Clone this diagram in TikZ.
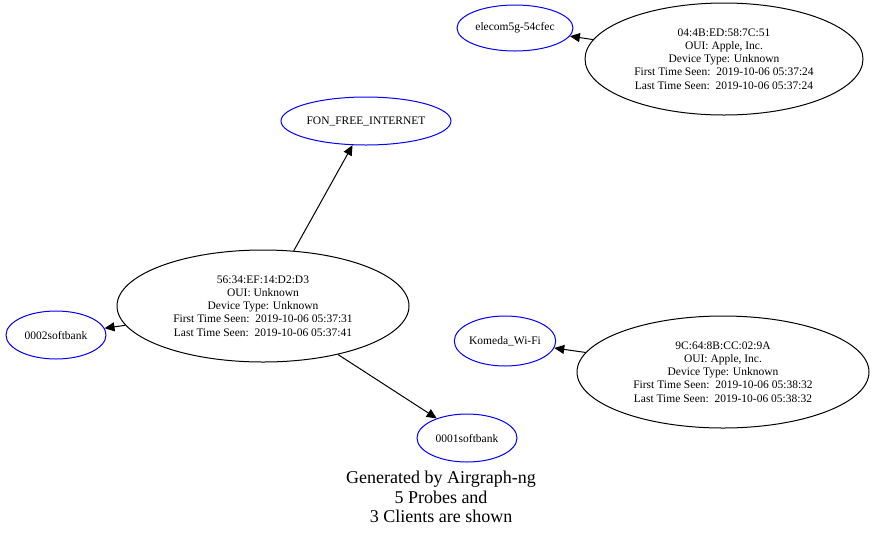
\documentclass[tikz,border=0pt]{standalone}
\usepackage{fontspec}
\setmainfont{Liberation Serif}
\usetikzlibrary{shapes.geometric,arrows.meta}
\begin{document}
\begin{tikzpicture}[x=1pt,y=-1pt,
  el/.style={ellipse,draw,line width=1pt,inner sep=0pt,font=\fontsize{11.5}{13.2}\selectfont,align=center},
  ssid/.style={el,draw=blue},
  arr/.style={-{Triangle[length=10pt,width=9pt]},line width=1pt}]
\useasboundingbox (0,0) rectangle (883,539);
\node[ssid,minimum width=116,minimum height=46] (e) at (515,28) {elecom5g-54cfec};
\node[el,minimum width=278,minimum height=112] (a1) at (724,59) {04:4B:ED:58:7C:51\\OUI: Apple, Inc.\\Device Type: Unknown\\First Time Seen:\ \ 2019-10-06 05:37:24\\Last Time Seen:\ \ 2019-10-06 05:37:24};
\node[ssid,minimum width=170,minimum height=48] (f) at (366,121) {FON\_FREE\_INTERNET};
\node[el,minimum width=292,minimum height=112] (c) at (263,306) {56:34:EF:14:D2:D3\\OUI: Unknown\\Device Type: Unknown\\First Time Seen:\ \ 2019-10-06 05:37:31\\Last Time Seen:\ \ 2019-10-06 05:37:41};
\node[ssid,minimum width=100,minimum height=48] (s2) at (56,335) {0002softbank};
\node[ssid,minimum width=98,minimum height=50] (k) at (505,341) {Komeda\_Wi-Fi};
\node[el,minimum width=292,minimum height=112] (a2) at (723,372) {9C:64:8B:CC:02:9A\\OUI: Apple, Inc.\\Device Type: Unknown\\First Time Seen:\ \ 2019-10-06 05:38:32\\Last Time Seen:\ \ 2019-10-06 05:38:32};
\node[ssid,minimum width=100,minimum height=48] (s1) at (467,438) {0001softbank};
\node[font=\fontsize{18}{19.5}\selectfont,align=center] (cap) at (441,497) {Generated by Airgraph-ng\\5 Probes and\\3 Clients are shown};
\draw[arr] (a1) -- (e);
\draw[arr] (c) -- (f);
\draw[arr] (c) -- (s2);
\draw[arr] (c) -- (s1);
\draw[arr] (a2) -- (k);
\end{tikzpicture}
\end{document}
